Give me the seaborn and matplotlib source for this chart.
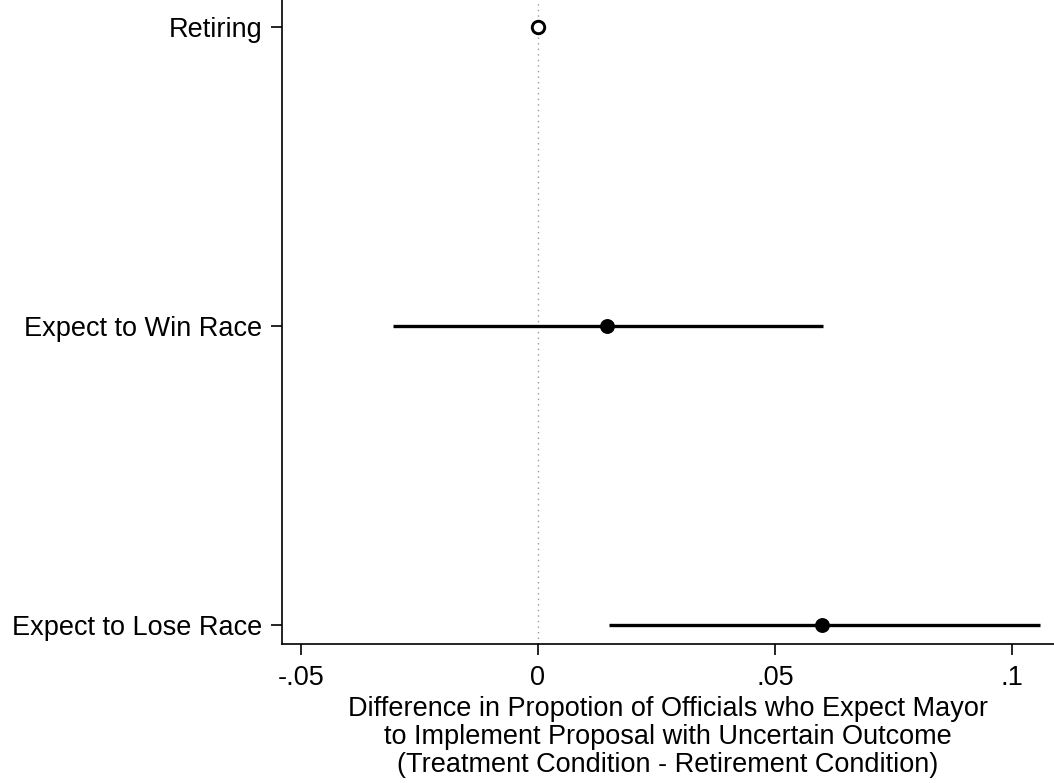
import numpy as np
import pandas as pd
import matplotlib
matplotlib.use("Agg")
import matplotlib.pyplot as plt
import seaborn as sns

# Coefficient estimates
categories = ["Retiring", "Expect to Win Race", "Expect to Lose Race"]
estimates = [0.0, 0.0146, 0.0600]
ci_low = [np.nan, -0.0305, 0.0150]
ci_high = [np.nan, 0.0602, 0.1059]
is_reference = [True, False, False]
xticks = [-0.05, 0, 0.05, 0.1]
xtick_labels = ["-.05", "0", ".05", ".1"]

df = pd.DataFrame({"cat": categories, "est": estimates, "lo": ci_low,
                   "hi": ci_high, "ref": is_reference})
df["y"] = np.arange(len(df))

sns.set_style("ticks")
plt.rcParams["font.family"] = ["Liberation Sans", "DejaVu Sans"]

fig = plt.figure(figsize=(10.54, 7.83), dpi=100)
ax = fig.add_axes([0.2676, 0.1775, 0.7324, 0.8225])

# zero reference line
ax.axvline(0, color="#9a9a9a", lw=1.0, ls=(0, (1, 3)), zorder=1)

# confidence intervals
ci = df.dropna()
ax.hlines(ci["y"], ci["lo"], ci["hi"], color="black", lw=2.4, zorder=2)

# point estimates
sns.scatterplot(data=df[~df["ref"]], x="est", y="y", ax=ax, color="black",
                s=115, edgecolor="black", linewidth=0, zorder=3, legend=False)
sns.scatterplot(data=df[df["ref"]], x="est", y="y", ax=ax, facecolor="white",
                s=80, edgecolor="black", linewidth=2.1, zorder=3, legend=False)

ax.set_xlim(-0.054, 0.1089)
ax.set_ylim(2.064, -0.09)
ax.set_yticks(df["y"])
ax.set_yticklabels(categories)
ax.set_xticks(xticks)
ax.set_xticklabels(xtick_labels)
ax.tick_params(axis="both", labelsize=19.5, length=8, width=1.2, colors="black")
ax.tick_params(axis="y", pad=6)
ax.tick_params(axis="x", pad=7)
sns.despine(ax=ax)
for s in ["left", "bottom"]:
    ax.spines[s].set_linewidth(1.2)
    ax.spines[s].set_color("black")

ax.set_ylabel("")
ax.set_xlabel("Difference in Propotion of Officials who Expect Mayor\n"
              "to Implement Proposal with Uncertain Outcome\n"
              "(Treatment Condition - Retirement Condition)",
              fontsize=19.5, color="black", linespacing=1.1, labelpad=4)

fig.savefig("out.png", dpi=100)
